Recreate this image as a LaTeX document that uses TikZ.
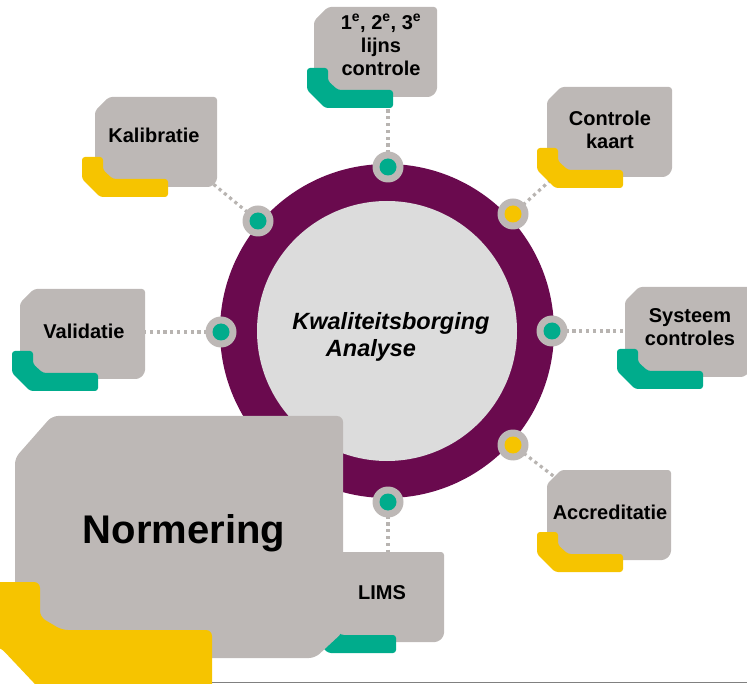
\documentclass[tikz,border=0pt]{standalone}
\usepackage{fontspec}
\setmainfont{Liberation Sans}
\definecolor{boxgray}{HTML}{BDB8B6}
\definecolor{qteal}{HTML}{00AC8C}
\definecolor{qyellow}{HTML}{F6C400}
\definecolor{qpurple}{HTML}{6A0A4E}
\definecolor{qinner}{HTML}{DCDCDC}
\definecolor{dotgray}{HTML}{B8B4B1}
\newcommand\qboxshape[3]{% x y width
  \fill[boxgray, rounded corners=3pt] (#1,#2+14) -- (#1+14,#2) -- (#1+#3,#2) -- (#1+#3,#2+84) -- (#1+#3-6,#2+90) -- (#1,#2+90) -- cycle;}
\newcommand\qtabshape[3]{% x y colour
  \fill[#3, rounded corners=3pt] (#1,#2) -- (#1+21,#2) -- (#1+21,#2+13) -- (#1+31,#2+22) -- (#1+86,#2+22) -- (#1+86,#2+40) -- (#1+18,#2+40) -- (#1,#2+22) -- cycle;}
\begin{document}
\begin{tikzpicture}[x=1pt,y=-1pt,
  conn/.style={draw=dotgray, line width=3.2pt, dash pattern=on 3.2pt off 3.6pt},
  lbl/.style={font=\bfseries\fontsize{20}{23}\selectfont, align=center, inner sep=0pt, text=black},
  ctitle/.style={font=\bfseries\itshape\fontsize{23.5}{27}\selectfont, inner sep=0pt},
  dotring/.style={circle, fill=boxgray, minimum size=31pt, inner sep=0pt},
  dotin/.style={circle, minimum size=17pt, inner sep=0pt}]
\useasboundingbox (0,0) rectangle (747,684);
\clip (0,0) rectangle (747,684);
% dot centres and box attachment points
\coordinate (pT) at (388,167);
\coordinate (pUL) at (258,221);
\coordinate (pUR) at (513,214);
\coordinate (pL) at (221,332);
\coordinate (pR) at (552,331);
\coordinate (pLR) at (513,445);
\coordinate (pB) at (388,502);
\coordinate (cT) at (388,97);
\coordinate (cUL) at (212,183);
\coordinate (cUR) at (553,178);
\coordinate (cL) at (145,332);
\coordinate (cR) at (625,331);
\coordinate (cLR) at (556,478);
\coordinate (cB) at (388,552);
% connectors
\draw[conn] (pT) -- (cT);
\draw[conn] (pUL) -- (cUL);
\draw[conn] (pUR) -- (cUR);
\draw[conn] (pL) -- (cL);
\draw[conn] (pR) -- (cR);
\draw[conn] (pLR) -- (cLR);
\draw[conn] (pB) -- (cB);
% ring
\coordinate (ctr) at (387,331);
\fill[qpurple] (ctr) circle (167pt);
\fill[qinner] (ctr) circle (130pt);
\node[ctitle] (title1) at (391,323) {Kwaliteitsborging};
\node[ctitle] (title2) at (371,350) {Analyse};
% small boxes
\qboxshape{314}{7}{123}
\qtabshape{307}{68}{qteal}
\node[lbl] (t1) at (381,45) {1\textsuperscript{e}, 2\textsuperscript{e}, 3\textsuperscript{e}\\lijns\\controle};
\qboxshape{95}{97}{122}
\qtabshape{82}{157}{qyellow}
\node[lbl] (t2) at (154,135) {Kalibratie};
\qboxshape{547}{87}{125}
\qtabshape{537}{148}{qyellow}
\node[lbl] (t3) at (610,130) {Controle\\kaart};
\qboxshape{20}{289}{125}
\qtabshape{12}{351}{qteal}
\node[lbl] (t4) at (84,331) {Validatie};
\qboxshape{625}{287}{125}
\qtabshape{617}{349}{qteal}
\node[lbl] (t5) at (690,327) {Systeem\\controles};
\qboxshape{547}{470}{124}
\qtabshape{537}{532}{qyellow}
\node[lbl] (t6) at (610,512) {Accreditatie};
\qboxshape{320}{552}{124}
\qtabshape{310}{613}{qteal}
\node[lbl] (t7) at (382,593) {LIMS};
% Normering
\fill[boxgray, rounded corners=6pt] (15,458) -- (52,416) -- (343,416) -- (343,632) -- (315,658) -- (15,658) -- cycle;
\fill[qyellow, rounded corners=6pt] (-10,582) -- (40,582) -- (40,617) -- (62,630) -- (212,630) -- (212,700) -- (50,700) -- (0,647) -- (-10,647) -- cycle;
\node[font=\bfseries\fontsize{40}{46}\selectfont, inner sep=0pt] (norm) at (184,533) {Normering};
\draw[gray, line width=1.5pt] (212,682.5) -- (747,682.5);
% dots
\foreach \p/\c in {pT/qteal, pUL/qteal, pUR/qyellow, pL/qteal, pR/qteal, pLR/qyellow, pB/qteal}{
  \node[dotring] (o\p) at (\p) {};
  \node[dotin, fill=\c] (i\p) at (\p) {};
}
\end{tikzpicture}
\end{document}
